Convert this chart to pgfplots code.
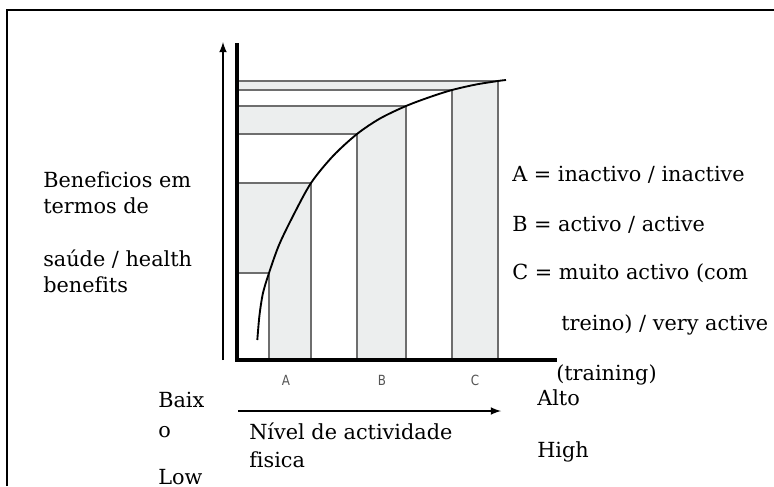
\documentclass[border=0pt]{standalone}
\usepackage{pgfplots}
\pgfplotsset{compat=1.18}
\usepackage{fontspec}
\setmainfont{DejaVu Serif}[Ligatures=NoCommon]
\setsansfont{DejaVu Sans}
\definecolor{band}{RGB}{236,238,238}
\definecolor{gline}{RGB}{110,110,110}
\definecolor{cattext}{RGB}{85,85,85}
\begin{document}
\begin{tikzpicture}
\begin{axis}[
  x=0.75pt, y=0.75pt,
  xmin=0, xmax=774, ymin=0, ymax=486,
  y dir=reverse,
  hide axis, clip=false,
  scale only axis,
]
% shaded bands
\addplot[fill=band, draw=none] coordinates {(237,183) (311,183) (311,360) (269,360) (269,273) (237,273)} --cycle;
\addplot[fill=band, draw=none] coordinates {(237,106) (406,106) (406,360) (357,360) (357,134) (237,134)} --cycle;
\addplot[fill=band, draw=none] coordinates {(237,81) (498,81) (498,360) (452,360) (452,90) (237,90)} --cycle;
% grey guide lines
\addplot[gline, line width=0.8pt] coordinates {(269,360) (269,273) (237,273)};
\addplot[gline, line width=0.8pt] coordinates {(311,360) (311,183) (237,183)};
\addplot[gline, line width=0.8pt] coordinates {(357,360) (357,134) (237,134)};
\addplot[gline, line width=0.8pt] coordinates {(406,360) (406,106) (237,106)};
\addplot[gline, line width=0.8pt] coordinates {(452,360) (452,90) (237,90)};
\addplot[gline, line width=0.8pt] coordinates {(498,360) (498,81) (237,81)};
% curve
\addplot[black, line width=1.4pt, smooth] coordinates {
 (257.3,340) (259.5,315) (263,293) (269,273) (279,245) (293,216) (311,183) (333,156)
 (357,134) (380,118.5) (406,106) (430,97) (452,90) (476,84.5) (498,81) (506,80)};
% axes
\draw[black, line width=2.3pt] (axis cs:237,43) -- (axis cs:237,360) -- (axis cs:557,360);
\draw[black, line width=1.6pt, -{latex}] (axis cs:223,360) -- (axis cs:223,42);
\draw[black, line width=1.6pt, -{latex}] (axis cs:238,411) -- (axis cs:501,411);
% frame
\draw[black, line width=1.5pt] (axis cs:7,486) -- (axis cs:7,10) -- (axis cs:774,10);
% category labels
\tikzset{cat/.style={font=\sffamily\fontsize{10.5}{12}\selectfont, text=cattext, xscale=0.85}}
\node[cat] at (axis cs:286,380) {A};
\node[cat] at (axis cs:382,380) {B};
\node[cat] at (axis cs:475,380) {C};
% texts
\tikzset{lbl/.style={anchor=base west, inner sep=0pt, font=\fontsize{15.6}{19}\selectfont}}
\node[lbl] at (axis cs:43,187) {Beneficios em};
\node[lbl] at (axis cs:43,213) {termos de};
\node[lbl] at (axis cs:43,266) {saúde / health};
\node[lbl] at (axis cs:43,292) {benefits};
\node[lbl] at (axis cs:512,181) {A = inactivo / inactive};
\node[lbl] at (axis cs:512,231) {B = activo / active};
\node[lbl] at (axis cs:512,279) {C = muito activo (com};
\node[lbl] at (axis cs:561,330) {treino) / very active};
\node[lbl] at (axis cs:556,380) {(training)};
\node[lbl] at (axis cs:158,407) {Baix};
\node[lbl] at (axis cs:158,437) {o};
\node[lbl] at (axis cs:158,484) {Low};
\node[lbl] at (axis cs:249,439) {Nível de actividade};
\node[lbl] at (axis cs:249,467) {fisica};
\node[lbl] at (axis cs:537,405) {Alto};
\node[lbl] at (axis cs:537,457) {High};
\end{axis}
\pgfresetboundingbox
\path (current axis.south west) rectangle (current axis.north east);
\end{tikzpicture}
\end{document}
